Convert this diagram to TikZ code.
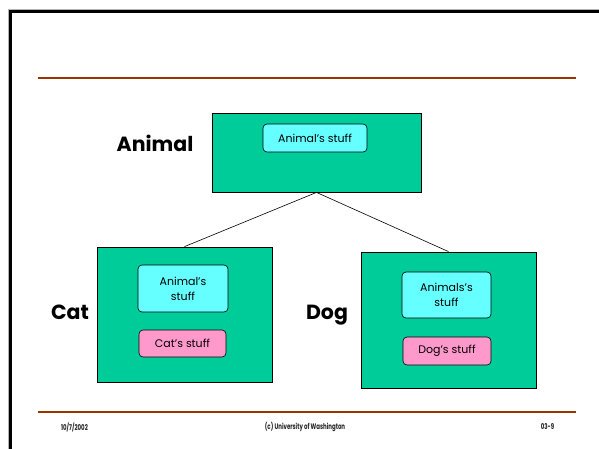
\documentclass[tikz,border=0pt]{standalone}
\usepackage{fontspec}
\setmainfont{Poppins}
\usetikzlibrary{positioning}

\definecolor{classgreen}{HTML}{00CC99}
\definecolor{stuffcyan}{HTML}{66FFFF}
\definecolor{stuffpink}{HTML}{FF99CC}
\definecolor{rulebrown}{HTML}{993300}

\newcommand{\narrowtext}[1]{\scalebox{0.68}[1]{#1}}

\begin{document}
\begin{tikzpicture}[x = 1pt, y = -1pt,
  classbox/.style = {draw, fill = classgreen, line width = 0.8pt, inner sep = 0pt},
  stuffbox/.style = {draw, rounded corners = 4pt, line width = 0.6pt, inner sep = 0pt,
    align = center, font = \fontsize{11}{15}\selectfont},
  classname/.style = {font = \fontsize{20.5}{24}\selectfont\bfseries},
  foot/.style = {font = \fontsize{8}{9}\selectfont\bfseries, text = black!85}]
  \useasboundingbox (0, 0) rectangle (599, 448);
  \fill[white] (0, 0) rectangle (599, 448);

  % 枠
  \draw[black!30, line width = 1pt] (8.5, 460) -- (8.5, 9.5) -- (620, 9.5);
  \draw[line width = 3pt] (10.5, 460) -- (10.5, 11.5) -- (620, 11.5);

  % 横線
  \foreach \y in {78, 412}
    \draw[rulebrown, line width = 1.6pt] (38, \y) -- (576, \y);

  % クラスの箱
  \node[classbox, minimum width = 209pt, minimum height = 79pt] (animal) at (316.5, 152.5) {};
  \node[classbox, minimum width = 175pt, minimum height = 135pt] (cat) at (184.5, 314.5) {};
  \node[classbox, minimum width = 175pt, minimum height = 136pt] (dog) at (448.5, 320) {};

  % 中身
  \node[stuffbox, fill = stuffcyan, minimum width = 104pt, minimum height = 28pt] (animalstuff) at (315, 138) {Animal's stuff};
  \node[stuffbox, fill = stuffcyan, minimum width = 90pt, minimum height = 47pt] (catanimal) at (183, 288.5) {Animal's\\stuff};
  \node[stuffbox, fill = stuffpink, minimum width = 87pt, minimum height = 27pt] (catstuff) at (182.5, 343.5) {Cat's stuff};
  \node[stuffbox, fill = stuffcyan, minimum width = 89pt, minimum height = 46pt] (doganimal) at (446.5, 295) {Animals's\\stuff};
  \node[stuffbox, fill = stuffpink, minimum width = 88pt, minimum height = 28pt] (dogstuff) at (447, 351) {Dog's stuff};

  % クラス名
  \node[classname] (animalname) at (155, 143) {Animal};
  \node[classname] (catname) at (70, 312) {Cat};
  \node[classname] (dogname) at (327, 315) {Dog};

  % 継承の線
  \draw[line width = 0.6pt] (animal.south) -- (cat.north);
  \draw[line width = 0.6pt] (animal.south) -- (dog.north);

  % フッター
  \node[foot] (date) at (74.5, 427) {\narrowtext{10/7/2002}};
  \node[foot] (copyright) at (305, 427) {\narrowtext{(c) University of Washington}};
  \node[foot] (page) at (547.5, 427) {\narrowtext{03-9}};
\end{tikzpicture}
\end{document}
